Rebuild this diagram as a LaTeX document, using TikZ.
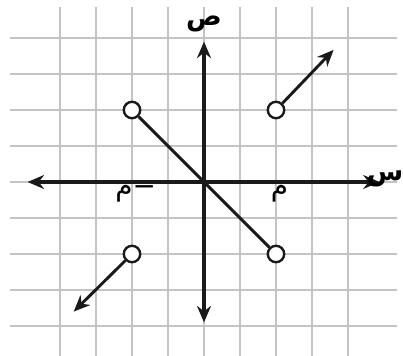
\documentclass[tikz,border=0pt]{standalone}
\usepackage{fontspec}
\usetikzlibrary{arrows.meta}
\newfontfamily\arabicfont[Script=Arabic]{DejaVu Sans}
\TeXXeTstate=1
\definecolor{GridGray}{HTML}{C4C4C4}
\definecolor{AxisBlack}{HTML}{1A1A1A}

\begin{document}
\begin{tikzpicture}[x=1cm, y=1cm,
  gridline/.style={GridGray, line width=1.5pt},
  axisline/.style={AxisBlack, line width=2.8pt, {Stealth[length=13pt,width=11pt]}-{Stealth[length=13pt,width=11pt]}},
  graphline/.style={AxisBlack, line width=2.3pt},
  rayline/.style={AxisBlack, line width=2.3pt, -{Stealth[length=13pt,width=11pt]}},
  hole/.style={circle, draw=AxisBlack, fill=white, line width=1.9pt, minimum size=13pt, inner sep=0pt},
  axislabel/.style={font=\arabicfont\fontsize{21}{24}\selectfont\bfseries, inner sep=0pt},
  ticklabel/.style={font=\arabicfont\fontsize{22}{26}\selectfont, inner sep=0pt}]
  \useasboundingbox (-5.667,-4.806) rectangle (5.528,5.056);
  % grid
  \foreach \k in {-4,...,4} {
    \draw[gridline] (\k,-4.9) -- (\k,4.86);
    \draw[gridline] (-5.39,\k) -- (5.36,\k);
  }
  % axes
  \coordinate (xleft) at (-4.9,0);
  \coordinate (xright) at (4.88,0);
  \coordinate (ytop) at (0,3.9);
  \coordinate (ybottom) at (0,-3.9);
  \coordinate (origin) at (0,0);
  \draw[axisline] (xleft) -- (xright);
  \draw[axisline] (ybottom) -- (ytop);
  \node[axislabel] (ylabel) at (0,4.4) {\beginR ص\endR};
  \node[axislabel, anchor=east] (xlabel) at (5.54,0.1) {\beginR س\endR};
  \node[ticklabel] (aneg) at (-1.9,-0.32) {\beginR −م\endR};
  \node[ticklabel] (apos) at (2.1,-0.32) {\beginR م\endR};
  % graph
  \node[hole] (topleft) at (-2,2) {};
  \node[hole] (topright) at (2,2) {};
  \node[hole] (bottomleft) at (-2,-2) {};
  \node[hole] (bottomright) at (2,-2) {};
  \coordinate (rayup) at (3.6,3.67);
  \coordinate (raydown) at (-3.62,-3.6);
  \draw[graphline] (topleft) -- (bottomright);
  \draw[rayline] (topright) -- (rayup);
  \draw[rayline] (bottomleft) -- (raydown);
\end{tikzpicture}
\end{document}
